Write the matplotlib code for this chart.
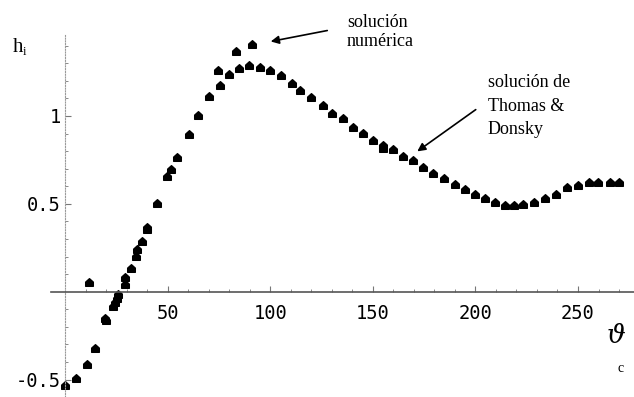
import matplotlib.pyplot as plt
from matplotlib.path import Path
from matplotlib.ticker import FixedLocator

plt.rcParams['axes.unicode_minus'] = False

# solucion de Thomas & Donsky
theta_td = [0, 5.2, 10.6, 14.6, 19.5, 23.2, 26.0, 29.2, 32.0, 35.2, 39.8, 45.0,
            49.5, 54.7, 60.4, 65.0, 70.2, 75.5, 79.8, 84.8, 89.8, 95.0, 99.9,
            105.1, 110.5, 114.5, 119.9, 125.6, 130.0, 135.3, 140.5, 145.1, 150.0,
            155.1, 159.7, 164.9, 169.4, 174.6, 179.5, 184.8, 190.0, 194.9, 199.8,
            204.7, 209.6, 214.4, 219.0, 223.0, 228.6, 233.9, 239.3, 244.5, 249.8,
            255.5, 259.9, 265.6, 270.1]
h_td = [-0.53, -0.49, -0.41, -0.32, -0.15, -0.08, -0.015, 0.042, 0.133, 0.241,
        0.355, 0.503, 0.658, 0.768, 0.896, 1.004, 1.116, 1.176, 1.237, 1.271,
        1.29, 1.281, 1.262, 1.233, 1.186, 1.148, 1.11, 1.063, 1.015, 0.987,
        0.939, 0.902, 0.863, 0.816, 0.81, 0.774, 0.75, 0.712, 0.677, 0.649,
        0.613, 0.583, 0.556, 0.531, 0.509, 0.493, 0.493, 0.497, 0.512, 0.531,
        0.556, 0.594, 0.607, 0.623, 0.623, 0.623, 0.623]

# solucion numerica
theta_num = [11.9, 20.2, 24.4, 25.2, 29.2, 34.4, 37.5, 39.8, 51.7, 74.6, 83.2, 91.0, 155.1]
h_num = [0.057, -0.16, -0.057, -0.038, 0.082, 0.203, 0.29, 0.366, 0.697, 1.262, 1.372, 1.408, 0.835]

xticks = [50, 100, 150, 200, 250]
xminor = [10, 20, 30, 40, 60, 70, 80, 90, 110, 120, 130, 140, 160, 170, 180, 190,
          210, 220, 230, 240, 260, 270]
yticks = [-0.5, 0.5, 1]
ytick_labels = ['-0.5', '0.5', '1']
yminor = [-0.4, -0.3, -0.2, -0.1, 0.1, 0.2, 0.3, 0.4, 0.6, 0.7, 0.8, 0.9, 1.1, 1.2, 1.3, 1.4]

# little "house" shaped marker like the original
house = Path([(-1, -1), (1, -1), (1, 0.1), (0, 1), (-1, 0.1), (-1, -1)],
             [Path.MOVETO, Path.LINETO, Path.LINETO, Path.LINETO, Path.LINETO, Path.CLOSEPOLY])

fig = plt.figure(figsize=(6.34, 3.97), dpi=100)
ax = fig.add_axes([0, 0, 1, 1])
ax.set_xlim(-31.7, 277.3)
ax.set_ylim(-0.599, 1.660)
ax.patch.set_alpha(0)

ax.plot(theta_td, h_td, ls='none', marker=house, ms=5.5, color='black')
ax.plot(theta_num, h_num, ls='none', marker=house, ms=5.5, color='black')

for s in ['top', 'right']:
    ax.spines[s].set_visible(False)
ax.spines['left'].set_position(('data', 0))
ax.spines['bottom'].set_position(('data', 0))
ax.spines['left'].set_bounds(-0.6, 1.46)
ax.spines['bottom'].set_bounds(-7, 278)
ax.spines['left'].set_color('#9a9a9a')
ax.spines['left'].set_linestyle((0, (1, 1.5)))
ax.spines['left'].set_linewidth(0.8)
ax.spines['bottom'].set_color('#555555')
ax.spines['bottom'].set_linewidth(1.2)

ax.xaxis.set_major_locator(FixedLocator(xticks))
ax.xaxis.set_minor_locator(FixedLocator(xminor))
ax.yaxis.set_major_locator(FixedLocator(yticks))
ax.set_yticklabels(ytick_labels)
ax.yaxis.set_minor_locator(FixedLocator(yminor))
ax.tick_params(which='both', direction='in', colors='#777777', labelcolor='black')
ax.tick_params(which='major', length=4, width=0.8)
ax.tick_params(which='minor', length=2, width=0.6)
ax.tick_params(axis='x', which='major', pad=9)
ax.tick_params(axis='y', which='major', pad=3)
for lab in ax.get_xticklabels() + ax.get_yticklabels():
    lab.set_fontfamily('DejaVu Sans Mono')
    lab.set_fontsize(13.5)

W, H = 634, 397
def put(x, y, s, **kw):
    fig.text(x / W, 1 - y / H, s, **kw)

put(13, 52, 'h', fontsize=15, family='Liberation Serif', va='baseline')
put(23, 55, 'i', fontsize=9, family='Liberation Serif', va='baseline')
put(607, 343, 'ϑ', fontsize=19, family='DejaVu Serif', style='italic', va='baseline')
put(617, 372, 'c', fontsize=10, family='Liberation Serif', va='baseline')

put(347, 27, 'solución', fontsize=13, family='Liberation Serif', va='baseline')
put(347, 46, 'numérica', fontsize=13, family='Liberation Serif', va='baseline')
put(488, 87, 'solución de', fontsize=13, family='Liberation Serif', va='baseline')
put(488, 111, 'Thomas &', fontsize=13, family='Liberation Serif', va='baseline')
put(488, 134, 'Donsky', fontsize=13, family='Liberation Serif', va='baseline')

arrow = dict(arrowstyle='-|>', color='black', lw=1.2, mutation_scale=12)
ax.annotate('', xy=(268 / W, 1 - 42 / H), xytext=(330 / W, 1 - 30 / H),
            xycoords='figure fraction', textcoords='figure fraction', arrowprops=arrow)
ax.annotate('', xy=(415 / W, 1 - 153 / H), xytext=(478 / W, 1 - 108 / H),
            xycoords='figure fraction', textcoords='figure fraction', arrowprops=arrow)

plt.savefig('out.png', dpi=100)
